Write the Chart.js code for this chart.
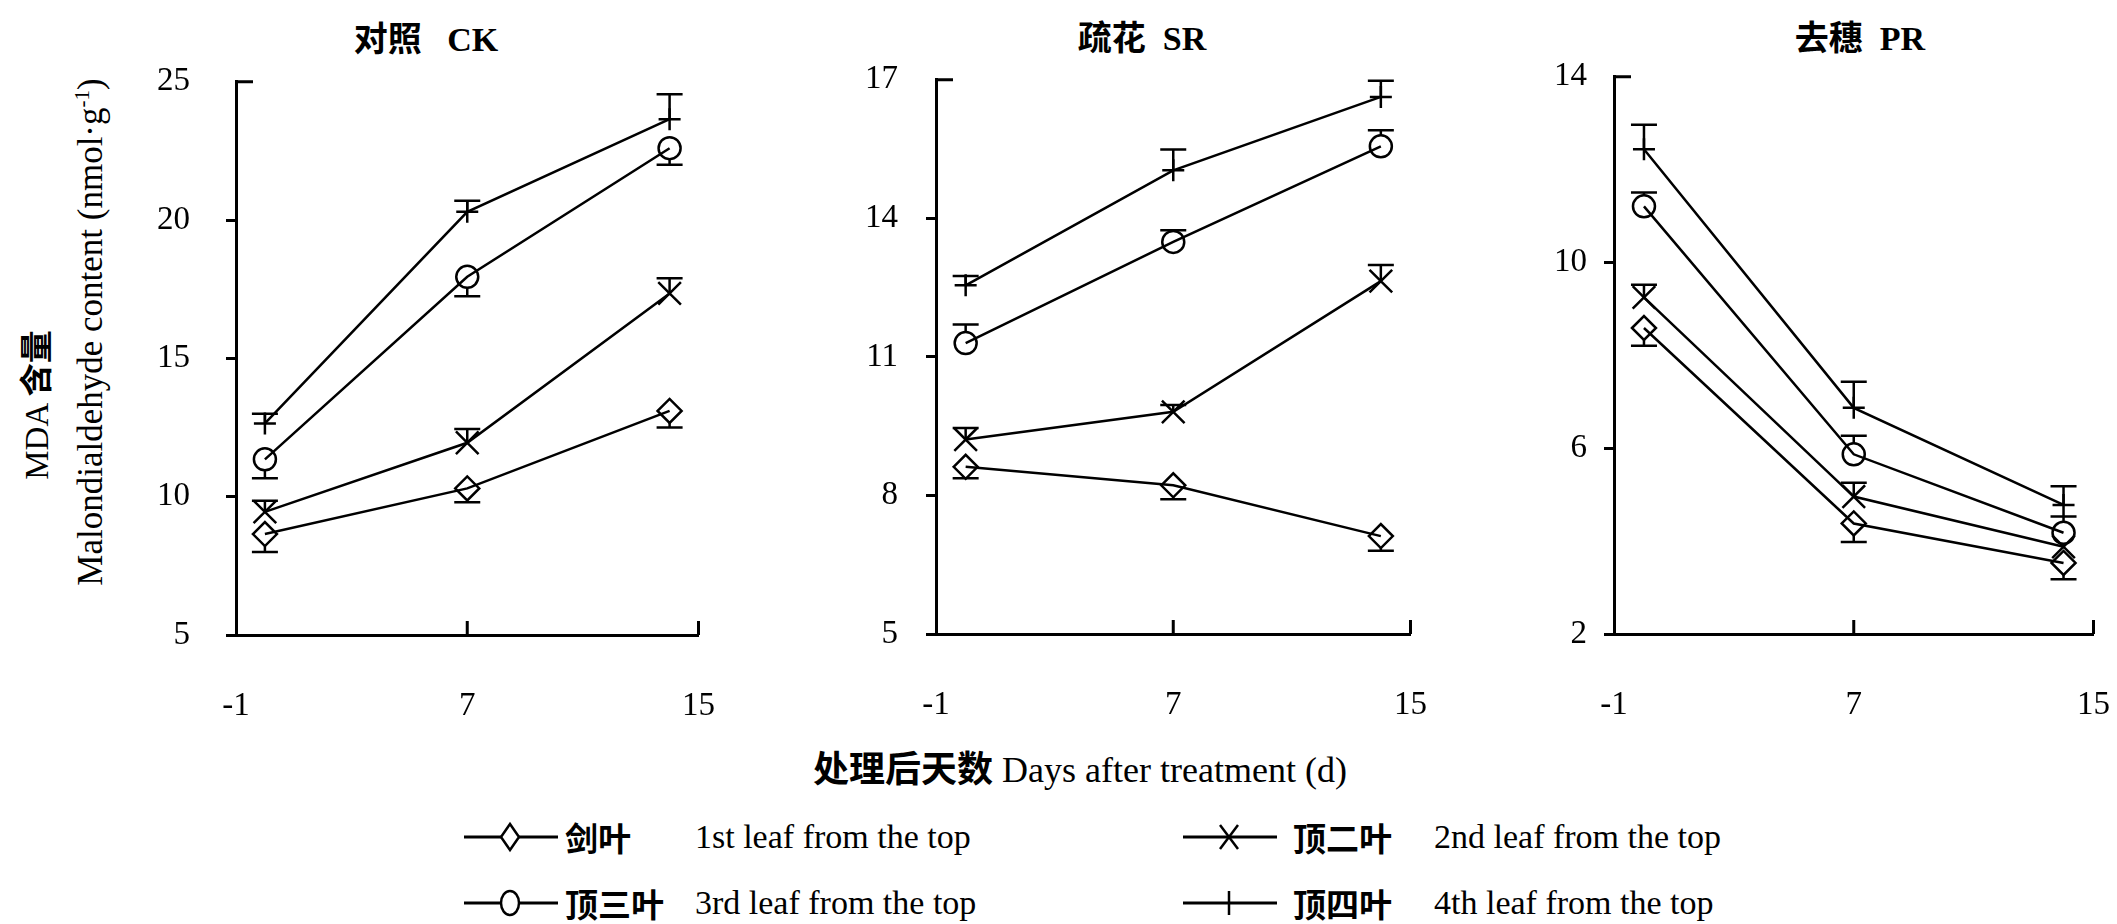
<!DOCTYPE html>
<html>
<head>
<meta charset="utf-8">
<script src="https://cdn.jsdelivr.net/npm/chart.js@4.4.1/dist/chart.umd.min.js"></script>
<style>
    body { margin: 0; background: #fff; width: 2117px; height: 924px; position: relative; overflow: hidden;
           font-family: "Liberation Serif", "Noto Sans CJK SC", serif; color: #000; }
    canvas { position: absolute; }
    .t { position: absolute; white-space: nowrap; line-height: 1; font-size: 34px; }
    .zh { font-family: "Noto Sans CJK SC", sans-serif; font-weight: 700; }
    .c { transform: translate(-50%, -50%); }
    .l { transform: translateY(-50%); }
    .r { transform: translate(-50%, -50%) rotate(-90deg); }
    sup { font-size: 60%; vertical-align: 0.6em; line-height: 0; }
    svg { position: absolute; }
</style>
</head>
<body>

<div class="t c" style="left:426px; top:38px"><span class="zh">对照</span>&nbsp;&nbsp; <b>CK</b></div>
<div class="t c" style="left:1142px; top:37px"><span class="zh">疏花</span>&nbsp; <b>SR</b></div>
<div class="t c" style="left:1860px; top:37px"><span class="zh">去穗</span>&nbsp; <b>PR</b></div>

<div class="t r" style="left:36px; top:405px; font-size:33px">MDA <span class="zh">含量</span></div>
<div class="t r" style="left:90px; top:332px; font-size:35px">Malondialdehyde content (nmol·g<sup>-1</sup>)</div>

<div class="t c" style="left:1080px; top:768px; font-size:36px"><span class="zh">处理后天数</span> Days after treatment (d)</div>

<canvas id="ck"></canvas>
<canvas id="sr"></canvas>
<canvas id="pr"></canvas>

<div id="legend"></div>

<script>
// x: days after treatment
const days = [0, 7, 14];
const xTicks = [-1, 7, 15];

// 对照 CK
const ckLeaf1 = [8.65, 10.3, 13.1];
const ckLeaf2 = [9.45, 11.95, 17.35];
const ckLeaf3 = [11.35, 17.95, 22.6];
const ckLeaf4 = [12.65, 20.3, 23.65];
// error bars, sign = direction drawn (+ up, - down)
const ckErr1 = [-0.65, -0.5, -0.6];
const ckErr2 = [0.4, 0.5, 0.55];
const ckErr3 = [-0.68, -0.7, -0.6];
const ckErr4 = [0.35, 0.4, 0.9];
const ckYTicks = [5, 10, 15, 20, 25];

// 疏花 SR
const srLeaf1 = [8.62, 8.22, 7.12];
const srLeaf2 = [9.21, 9.81, 12.64];
const srLeaf3 = [11.3, 13.49, 15.56];
const srLeaf4 = [12.55, 15.04, 16.63];
const srErr1 = [-0.25, -0.3, -0.32];
const srErr2 = [0.25, 0.15, 0.35];
const srErr3 = [0.4, 0.25, 0.35];
const srErr4 = [0.2, 0.45, 0.35];
const srYTicks = [5, 8, 11, 14, 17];

// 去穗 PR
const prLeaf1 = [8.59, 4.38, 3.53];
const prLeaf2 = [9.25, 4.96, 3.88];
const prLeaf3 = [11.21, 5.87, 4.18];
const prLeaf4 = [12.44, 6.87, 4.78];
const prErr1 = [-0.38, -0.4, -0.35];
const prErr2 = [0.27, 0.3, 0];
const prErr3 = [0.3, 0.4, 0.35];
const prErr4 = [0.53, 0.56, 0.4];
const prYTicks = [2, 6, 10, 14];

const leafZh = ['剑叶', '顶二叶', '顶三叶', '顶四叶'];
const leafEn = ['1st leaf from the top', '2nd leaf from the top', '3rd leaf from the top', '4th leaf from the top'];

const markers = [
    { pointStyle: 'rectRot', radius: 12 },
    { pointStyle: 'crossRot', radius: 16 },
    { pointStyle: 'circle', radius: 11 },
    { pointStyle: 'cross', radius: 11 }
];

const tickFont = { family: 'Liberation Serif', size: 33 };

// error bars (one-sided, as in the figure)
const errorBars = {
    id: 'errorBars',
    afterDatasetsDraw(chart) {
        const { ctx, scales: { x, y } } = chart;
        ctx.save();
        ctx.strokeStyle = '#000';
        ctx.lineWidth = 2.5;
        chart.data.datasets.forEach(ds => {
            const hollow = ds.pointStyle === 'circle' || ds.pointStyle === 'rectRot';
            ds.errors.forEach((e, j) => {
                if (!e) return;
                const p = ds.data[j];
                const px = x.getPixelForValue(p.x);
                const y0 = y.getPixelForValue(p.y);
                const y1 = y.getPixelForValue(p.y + e);
                const dir = e > 0 ? -1 : 1;
                const start = hollow ? y0 + dir * ds.pointRadius : y0;
                ctx.beginPath();
                ctx.moveTo(px, start);
                ctx.lineTo(px, y1);
                ctx.moveTo(px - 13, y1);
                ctx.lineTo(px + 13, y1);
                ctx.stroke();
            });
        });
        ctx.restore();
    }
};

// x ticks point inward, top y tick as a small cap
const innerTicks = {
    id: 'innerTicks',
    afterDraw(chart) {
        const { ctx, chartArea, scales: { x } } = chart;
        ctx.save();
        ctx.strokeStyle = '#000';
        ctx.lineWidth = 3;
        ctx.beginPath();
        x.ticks.slice(1).forEach(t => {
            const px = x.getPixelForValue(t.value);
            ctx.moveTo(px, chartArea.bottom);
            ctx.lineTo(px, chartArea.bottom - 14);
        });
        ctx.moveTo(chartArea.left, chartArea.top);
        ctx.lineTo(chartArea.left + 17, chartArea.top);
        ctx.stroke();
        ctx.restore();
    }
};

const Y_W = 110, X_H = 90;

function panelConfig(leaves, errs, yTicks, labelPad) {
    const yMax = yTicks[yTicks.length - 1];
    const datasets = leaves.map((vals, i) => ({
        label: leafEn[i],
        data: days.map((d, j) => ({ x: d, y: vals[j] })),
        errors: errs[i],
        borderColor: '#000',
        borderWidth: 2.5,
        backgroundColor: 'rgba(0,0,0,0)',
        pointStyle: markers[i].pointStyle,
        pointRadius: markers[i].radius,
        pointBorderColor: '#000',
        pointBackgroundColor: 'rgba(0,0,0,0)',
        pointBorderWidth: 2.5,
        tension: 0,
        clip: false
    }));

    return {
        type: 'line',
        data: { datasets },
        options: {
            responsive: false,
            maintainAspectRatio: false,
            animation: false,
            devicePixelRatio: 1,
            layout: { padding: 0 },
            plugins: { legend: { display: false }, tooltip: { enabled: false } },
            scales: {
                x: {
                    type: 'linear',
                    min: xTicks[0],
                    max: xTicks[xTicks.length - 1],
                    afterBuildTicks: s => { s.ticks = xTicks.map(v => ({ value: v })); },
                    afterFit: s => { s.height = X_H; },
                    ticks: { font: tickFont, color: '#000', padding: 44, maxRotation: 0 },
                    grid: { display: false },
                    border: { color: '#000', width: 3 }
                },
                y: {
                    type: 'linear',
                    min: yTicks[0],
                    max: yMax,
                    afterBuildTicks: s => { s.ticks = yTicks.map(v => ({ value: v })); },
                    afterFit: s => { s.width = Y_W; },
                    ticks: { font: tickFont, color: '#000', padding: labelPad },
                    grid: {
                        drawOnChartArea: false,
                        tickLength: 10,
                        lineWidth: 3,
                        color: c => (c.tick && c.tick.value === yMax) ? 'rgba(0,0,0,0)' : '#000'
                    },
                    border: { color: '#000', width: 3 }
                }
            }
        },
        plugins: [errorBars, innerTicks]
    };
}

function sizeCanvas(canvas, left, top, w, h) {
    canvas.width = w;
    canvas.height = h;
    canvas.style.left = left + 'px';
    canvas.style.top = top + 'px';
    canvas.style.width = w + 'px';
    canvas.style.height = h + 'px';
}

// place the plot area at the given page pixels: measure the axis margins once, then rebuild
function makePanel(id, area, leaves, errs, yTicks, labelPad) {
    const canvas = document.getElementById(id);
    const W0 = 700, H0 = 700;
    sizeCanvas(canvas, 0, 0, W0, H0);
    const probe = new Chart(canvas, panelConfig(leaves, errs, yTicks, labelPad));
    const ca = probe.chartArea;
    const offL = ca.left, offT = ca.top, offR = W0 - ca.right, offB = H0 - ca.bottom;
    probe.destroy();

    const w = Math.round(offL + (area.right - area.left) + offR);
    const h = Math.round(offT + (area.bottom - area.top) + offB);
    sizeCanvas(canvas, Math.round(area.left - offL), Math.round(area.top - offT), w, h);
    return new Chart(canvas, panelConfig(leaves, errs, yTicks, labelPad));
}

makePanel('ck', { left: 236, top: 82, right: 698, bottom: 635 },
    [ckLeaf1, ckLeaf2, ckLeaf3, ckLeaf4], [ckErr1, ckErr2, ckErr3, ckErr4], ckYTicks, 36);
makePanel('sr', { left: 936, top: 80, right: 1410, bottom: 634 },
    [srLeaf1, srLeaf2, srLeaf3, srLeaf4], [srErr1, srErr2, srErr3, srErr4], srYTicks, 28);
makePanel('pr', { left: 1614, top: 77, right: 2093, bottom: 634 },
    [prLeaf1, prLeaf2, prLeaf3, prLeaf4], [prErr1, prErr2, prErr3, prErr4], prYTicks, 17);

// legend: 2 columns x 2 rows
const legendCols = [{ line: 462, zh: 565, en: 695 }, { line: 1181, zh: 1293, en: 1434 }];
const legendRows = [837, 903];
const legendOrder = [[0, 1], [2, 3]];

function markerSvg(i) {
    const cx = 48, cy = 18;
    let m = '';
    if (i === 0) m = `<path d="M${cx} ${cy - 13} L${cx + 9} ${cy} L${cx} ${cy + 13} L${cx - 9} ${cy} Z" fill="#fff" stroke="#000" stroke-width="2.5"/>`;
    if (i === 1) m = `<path d="M${cx - 9} ${cy - 12} L${cx + 9} ${cy + 12} M${cx + 9} ${cy - 12} L${cx - 9} ${cy + 12}" stroke="#000" stroke-width="2.5"/>`;
    if (i === 2) m = `<ellipse cx="${cx}" cy="${cy}" rx="9" ry="12" fill="#fff" stroke="#000" stroke-width="2.5"/>`;
    if (i === 3) m = `<path d="M${cx} ${cy - 12} L${cx} ${cy + 12}" stroke="#000" stroke-width="2.5"/>`;
    return `<svg width="98" height="36" style="left:0;top:0">
        <path d="M2 ${cy} L96 ${cy}" stroke="#000" stroke-width="3"/>${m}</svg>`;
}

const legend = document.getElementById('legend');
legendOrder.forEach((row, r) => {
    row.forEach((leaf, c) => {
        const col = legendCols[c];
        const y = legendRows[r];
        const box = document.createElement('div');
        box.style.cssText = `position:absolute;left:${col.line}px;top:${y - 18}px;width:98px;height:36px`;
        box.innerHTML = markerSvg(leaf);
        legend.appendChild(box);
        const zh = document.createElement('div');
        zh.className = 't l zh';
        zh.style.cssText = `left:${col.zh}px;top:${y}px;font-size:33px`;
        zh.textContent = leafZh[leaf];
        legend.appendChild(zh);
        const en = document.createElement('div');
        en.className = 't l';
        en.style.cssText = `left:${col.en}px;top:${y}px;font-size:34px`;
        en.textContent = leafEn[leaf];
        legend.appendChild(en);
    });
});
</script>
</body>
</html>
